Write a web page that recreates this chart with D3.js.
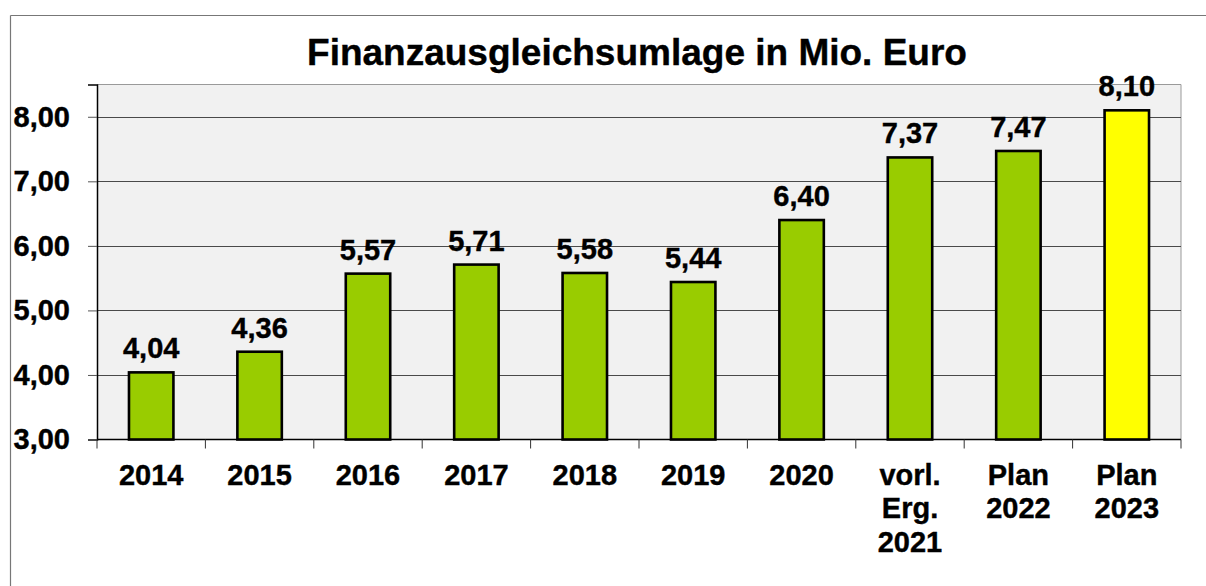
<!DOCTYPE html>
<html><head><meta charset="utf-8">
<script src="https://cdn.jsdelivr.net/npm/d3@7/dist/d3.min.js"></script>
<style>
html,body{margin:0;padding:0;background:#fff;}
svg{display:block;font-family:"Liberation Sans",Arial,sans-serif;}
</style></head>
<body>
<svg id="chart" width="1206" height="586"></svg>
<script>
const title = "Finanzausgleichsumlage in Mio. Euro";
const categories = ["2014","2015","2016","2017","2018","2019","2020","vorl.\nErg.\n2021","Plan\n2022","Plan\n2023"];
const values = [4.04,4.36,5.57,5.71,5.58,5.44,6.40,7.37,7.47,8.10];
const highlight = [false,false,false,false,false,false,false,false,false,true];
const yTicks = [3,4,5,6,7,8];
const yDomain = [3,8.5];

const svg = d3.select("#chart");
const m = {left:97, right:1181, top:84.5, bottom:439.5};
const fmt = v => d3.format(".2f")(v).replace(".", ",");
const FS = 29;

// outer frame (top and left lines)
svg.append("line").attr("x1",10.5).attr("x2",1206).attr("y1",15.5).attr("y2",15.5).attr("stroke","#777").attr("stroke-width",1.2);
svg.append("line").attr("x1",10.5).attr("x2",10.5).attr("y1",15.5).attr("y2",586).attr("stroke","#777").attr("stroke-width",1.2);

const x = d3.scaleBand().domain(categories).range([m.left,m.right]).paddingInner(0.59).paddingOuter(0.295);
const xb = d3.scaleBand().domain(categories).range([m.left,m.right]).padding(0);
const y = d3.scaleLinear().domain(yDomain).range([m.bottom,m.top]);

// plot background
svg.append("rect").attr("x",m.left).attr("y",m.top).attr("width",m.right-m.left).attr("height",m.bottom-m.top).attr("fill","#f1f1f1");
// top/right border
svg.append("path").attr("d",`M${m.left},${m.top}H${m.right}V${m.bottom}`).attr("fill","none").attr("stroke","#9a9a9a").attr("stroke-width",1);

// gridlines
svg.append("g").selectAll("line").data(yTicks.filter(t=>t>yDomain[0])).join("line")
  .attr("x1",m.left).attr("x2",m.right)
  .attr("y1",d=>Math.round(y(d))+0.5).attr("y2",d=>Math.round(y(d))+0.5)
  .attr("stroke","#4a4a4a").attr("stroke-width",1);

// y axis
const yAxis = d3.axisLeft(y).tickValues(yTicks).tickSize(9).tickPadding(18).tickFormat(fmt);
const gy = svg.append("g").attr("transform",`translate(${m.left},0)`).call(yAxis);
gy.select(".domain").attr("stroke","#000").attr("stroke-width",1.5);
gy.selectAll(".tick line").attr("stroke","#555");
gy.selectAll(".tick text").attr("font-size",FS).attr("font-weight","bold").attr("fill","#000")
  .attr("stroke","#000").attr("stroke-width",0.4).attr("font-family","'Liberation Sans',Arial,sans-serif");

// x axis
const gx = svg.append("g").attr("transform",`translate(0,${m.bottom})`);
gx.append("line").attr("x1",m.left).attr("x2",m.right).attr("y1",0).attr("y2",0).attr("stroke","#000").attr("stroke-width",1.5);
const bounds = categories.map(c=>xb(c)).concat([m.right]);
gx.selectAll("line.tk").data(bounds).join("line").attr("class","tk")
  .attr("x1",d=>d).attr("x2",d=>d).attr("y1",0).attr("y2",9).attr("stroke","#333").attr("stroke-width",1);
const xl = gx.selectAll("text").data(categories).join("text")
  .attr("x",d=>xb(d)+xb.bandwidth()/2)
  .attr("y",45)
  .attr("text-anchor","middle").attr("font-size",FS).attr("font-weight","bold").attr("fill","#000")
  .attr("stroke","#000").attr("stroke-width",0.4);
xl.each(function(d){
  const lines = d.split("\n");
  d3.select(this).selectAll("tspan").data(lines).join("tspan")
    .attr("x",xb(d)+xb.bandwidth()/2).attr("dy",(l,i)=>i===0?0:33.5).text(l=>l);
});

// bars
svg.append("g").selectAll("rect").data(values).join("rect")
  .attr("x",(d,i)=>x(categories[i]))
  .attr("width",x.bandwidth())
  .attr("y",d=>y(d))
  .attr("height",d=>y(yDomain[0])-y(d))
  .attr("fill",(d,i)=>highlight[i]?"#ffff00":"#99cc00")
  .attr("stroke","#000").attr("stroke-width",2.6);

// value labels
svg.append("g").selectAll("text").data(values).join("text")
  .attr("x",(d,i)=>x(categories[i])+x.bandwidth()/2)
  .attr("y",d=>y(d)-14)
  .attr("text-anchor","middle").attr("font-size",FS).attr("font-weight","bold").attr("fill","#000")
  .attr("stroke","#000").attr("stroke-width",0.4)
  .text(fmt);

// title
svg.append("text").attr("x",637).attr("y",65).attr("text-anchor","middle")
  .attr("font-size",37).attr("font-weight","bold").attr("fill","#000")
  .attr("stroke","#000").attr("stroke-width",0.4).text(title);
</script>
</body></html>
